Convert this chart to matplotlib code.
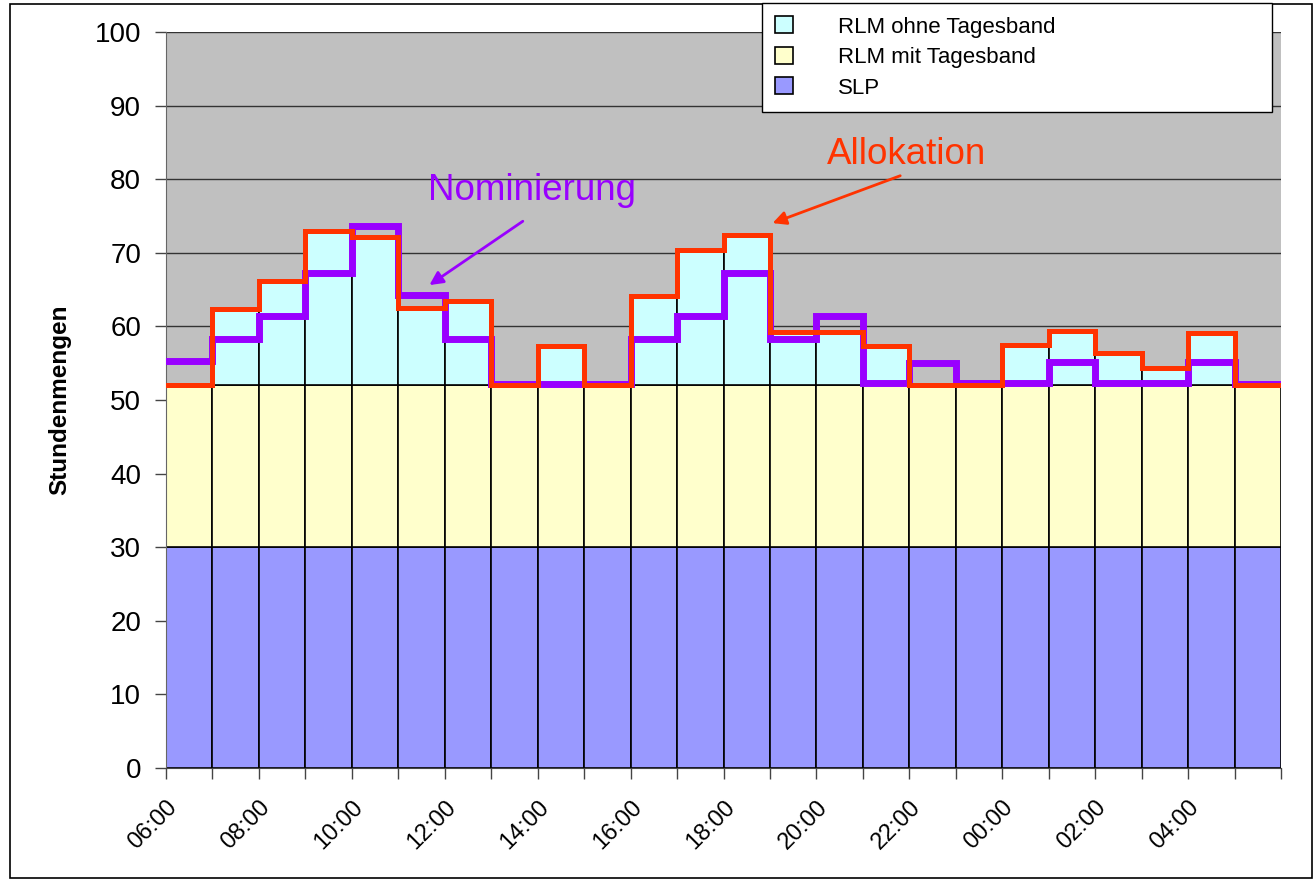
import numpy as np
import matplotlib
matplotlib.use("Agg")
from matplotlib import pyplot as plt
from matplotlib.patches import Rectangle

plt.rcParams['font.family'] = ['Liberation Sans', 'DejaVu Sans']

hours = ['06:00', '07:00', '08:00', '09:00', '10:00', '11:00', '12:00', '13:00',
         '14:00', '15:00', '16:00', '17:00', '18:00', '19:00', '20:00', '21:00',
         '22:00', '23:00', '00:00', '01:00', '02:00', '03:00', '04:00', '05:00']
slp = [30] * 24
rlm_mit = [22] * 24
allokation = [52.0, 62.3, 66.2, 73.0, 72.2, 62.5, 63.5, 52.0,
              57.3, 52.0, 64.1, 70.4, 72.4, 59.2, 59.2, 57.3,
              52.0, 52.0, 57.5, 59.4, 56.4, 54.3, 59.1, 52.0]
nominierung = [55.3, 58.3, 61.4, 67.3, 73.6, 64.3, 58.3, 52.2,
               52.2, 52.2, 58.3, 61.4, 67.3, 58.3, 61.4, 52.3,
               55.0, 52.3, 52.3, 55.1, 52.3, 52.3, 55.1, 52.2]
rlm_ohne = [a - 52 for a in allokation]

x = np.arange(len(hours))

fig = plt.figure(figsize=(13.15, 8.8), dpi=100)
ax = fig.add_axes([166 / 1315, 1 - 768 / 880, 1115 / 1315, 736 / 880])
ax.set_facecolor('#C0C0C0')

ax.bar(x, slp, width=1, align='edge', color='#9999FF', edgecolor='black', lw=1.2,
       label='SLP', zorder=2)
ax.bar(x, rlm_mit, width=1, align='edge', bottom=slp, color='#FFFFCC',
       edgecolor='black', lw=1.2, label='RLM mit Tagesband', zorder=2)
ax.bar(x, rlm_ohne, width=1, align='edge', bottom=np.add(slp, rlm_mit),
       color='#CCFFFF', edgecolor='black', lw=1.2, label='RLM ohne Tagesband', zorder=2)

xs = np.arange(len(hours) + 1)
ax.plot(xs, nominierung + nominierung[-1:], drawstyle='steps-post', color='#9900FF',
        lw=5, zorder=3, solid_joinstyle='miter')
ax.plot(xs, allokation + allokation[-1:], drawstyle='steps-post', color='#FF3300',
        lw=3.6, zorder=4, solid_joinstyle='miter')

ax.set_xlim(0, 24)
ax.set_ylim(0, 100)
ax.set_yticks(np.arange(0, 101, 10))
ax.yaxis.grid(True, color='#333333', lw=1)
ax.set_axisbelow(True)
ax.set_xticks(xs, minor=True)
ax.set_xticks(x[::2])
ax.set_xticklabels(hours[::2], rotation=45, ha='right', rotation_mode='anchor')
ax.tick_params(axis='x', which='both', length=8, width=1, color='#444444')
ax.tick_params(axis='y', length=8, width=1, color='#444444', labelsize=20, pad=10)
ax.tick_params(axis='x', labelsize=17, pad=12)
for s in ['top', 'right']:
    ax.spines[s].set_visible(False)
ax.spines['left'].set_color('#666666')
ax.spines['bottom'].set_color('#444444')

ax.set_ylabel('Stundenmengen', fontsize=17.5, fontweight='bold', labelpad=17)

ax.annotate('', xy=(5.62, 65.4), xytext=(7.73, 74.5),
            arrowprops=dict(arrowstyle='-|>', color='#9900FF', lw=2, mutation_scale=20))
ax.text(7.88, 78.5, 'Nominierung', color='#9900FF', fontsize=26.5, ha='center', va='center')
ax.annotate('', xy=(13.0, 73.9), xytext=(15.86, 80.6),
            arrowprops=dict(arrowstyle='-|>', color='#FF3300', lw=2, mutation_scale=20))
ax.text(15.93, 83.4, 'Allokation', color='#FF3300', fontsize=26.5, ha='center', va='center')

handles, labels = ax.get_legend_handles_labels()
leg = fig.legend(handles[::-1], labels[::-1], loc='upper left',
                 bbox_to_anchor=(762 / 1315, 1 - 111 / 880, 510 / 1315, 108 / 880),
                 mode='expand', fontsize=16, frameon=True, fancybox=False,
                 edgecolor='black', framealpha=1, borderpad=0.6, labelspacing=0.42,
                 handlelength=0.8, handleheight=0.8, handletextpad=2.0, borderaxespad=0)
leg.get_frame().set_linewidth(1)
leg.set_zorder(10)

fig.patches.append(Rectangle((10 / 1315, 2 / 880), 1302 / 1315, 874 / 880,
                             transform=fig.transFigure, fill=False, edgecolor='black',
                             lw=1.2))

fig.savefig('out.png', dpi=100)
